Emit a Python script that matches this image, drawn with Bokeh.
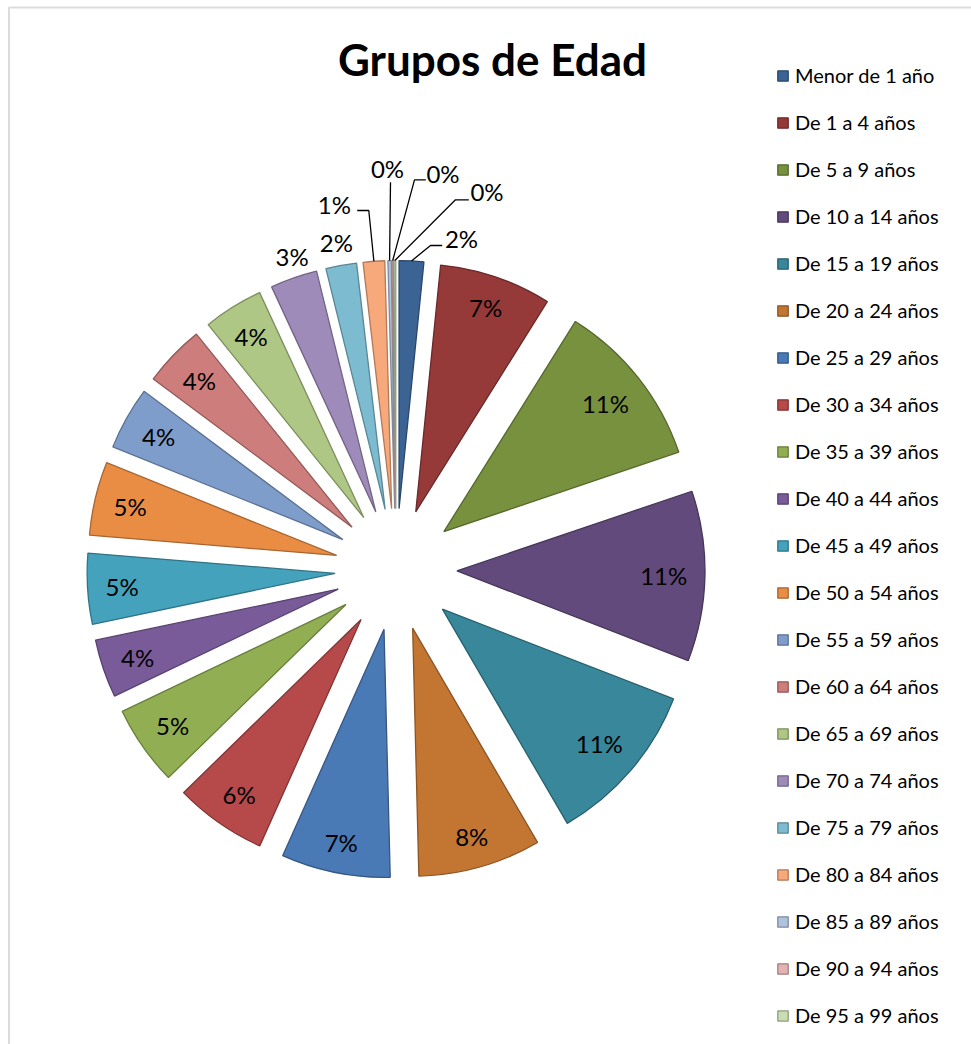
import math
from bokeh.plotting import figure
from bokeh.models import Range1d, BoxAnnotation, Legend, LegendItem, ColumnDataSource
from bokeh.core.properties import value
from bokeh.embed import file_html
from bokeh.resources import INLINE

# ---------------- data ----------------
categories = [
    "Menor de 1 año", "De 1 a 4 años", "De 5 a 9 años", "De 10 a 14 años",
    "De 15 a 19 años", "De 20 a 24 años", "De 25 a 29 años", "De 30 a 34 años",
    "De 35 a 39 años", "De 40 a 44 años", "De 45 a 49 años", "De 50 a 54 años",
    "De 55 a 59 años", "De 60 a 64 años", "De 65 a 69 años", "De 70 a 74 años",
    "De 75 a 79 años", "De 80 a 84 años", "De 85 a 89 años", "De 90 a 94 años",
    "De 95 a 99 años",
]
shares = [1.6, 7.3, 10.9, 11.1, 10.7, 8.0, 7.1, 6.0, 5.2, 3.8, 4.6, 4.8,
          4.1, 4.0, 3.9, 3.06, 2.0, 1.4, 0.22, 0.10, 0.12]
title_text = "Grupos de Edad"

# ---------------- style ----------------
fills = ["#3B6495", "#953A39", "#78913F", "#624B7C", "#38879A", "#C37532",
         "#4A7AB5", "#B6494A", "#91AF52", "#7A5B99", "#45A2BC", "#E98D45",
         "#7F9DCB", "#CD7D7B", "#AEC785", "#9F8BBA", "#7DBCD0", "#F7A97B",
         "#B1C2DD", "#E3B3B2", "#C9DCB2"]


def darker(hexcol, f=0.72):
    r, g, b = (int(hexcol[i:i + 2], 16) for i in (1, 3, 5))
    return "#%02x%02x%02x" % (int(r * f), int(g * f), int(b * f))


lines = [darker(c) for c in fills]

W, H = 971, 1044
CX, CY = 395.5, 475.0     # pie centre (data = canvas pixels, y up)
R = 248.0                 # slice radius
D = 61.0                  # explosion distance
FONT = "Lato"

# outside label layout (offsets from pie centre, screen-y downward)
OUT_TEXT = {0: (65.5, -330.7), 15: (-103.8, -313.5), 16: (-59.7, -326.8),
            17: (-61.7, -364.8), 18: (-8.5, -400.7), 19: (47.0, -396.2),
            20: (91.0, -378.5)}
LEADERS = {0: [(34.5, -324.0), (46.2, -324.0)],
           17: [(-27.2, -359.0), (-38.8, -359.0)],
           18: [(-5.5, -387.3)],
           19: [(18.5, -389.7), (29.8, -389.7)],
           20: [(59.5, -369.7), (72.8, -369.7)]}

# ---------------- geometry ----------------
total = sum(shares)
xs, ys, starts, ends, mids = [], [], [], [], []
acc = 0.0
for v in shares:
    t0 = 2 * math.pi * acc / total
    acc += v
    t1 = 2 * math.pi * acc / total
    m = (t0 + t1) / 2
    mids.append(m)
    xs.append(CX + D * math.sin(m))
    ys.append(CY + D * math.cos(m))
    starts.append(math.pi / 2 - t1)
    ends.append(math.pi / 2 - t0)

pct_labels = ["%d%%" % int(math.floor(v / total * 100 + 0.5)) for v in shares]

src = ColumnDataSource(dict(x=xs, y=ys, start=starts, end=ends,
                            fill=fills, line=lines, cat=categories))

p = figure(width=W, height=H, output_backend="svg", toolbar_location=None,
           x_range=Range1d(0, W), y_range=Range1d(0, H), min_border=0,
           outline_line_color=None, background_fill_color="white")
p.xaxis.visible = False
p.yaxis.visible = False
p.grid.visible = False

r = p.wedge(x="x", y="y", radius=R, start_angle="start", end_angle="end",
            fill_color="fill", line_color="line", line_width=1.3, source=src)

# inside labels
in_x, in_y, in_t = [], [], []
for i, m in enumerate(mids):
    if i in OUT_TEXT:
        continue
    w = 16.0 if len(pct_labels[i]) == 2 else 23.0
    ext = abs(math.sin(m)) * w + abs(math.cos(m)) * 9.5
    rl = R - 18.0 - ext
    in_x.append(xs[i] + rl * math.sin(m))
    in_y.append(ys[i] + rl * math.cos(m))
    in_t.append(pct_labels[i])
p.text(x=in_x, y=in_y, text=in_t, text_font=value(FONT), text_font_size="24px",
       text_align="center", text_baseline="middle", text_color="black")

# outside labels
ox, oy, ot = [], [], []
for i, (dx, dy) in OUT_TEXT.items():
    ox.append(CX + dx)
    oy.append(CY - dy)
    ot.append(pct_labels[i])
p.text(x=ox, y=oy, text=ot, text_font=value(FONT), text_font_size="24px",
       text_align="center", text_baseline="middle", text_color="black")

# leader lines
lxs, lys = [], []
for i, pts in LEADERS.items():
    m = mids[i]
    sx = xs[i] + R * math.sin(m)
    sy = ys[i] + R * math.cos(m)
    lx = [sx] + [CX + a for a, b in pts]
    ly = [sy] + [CY - b for a, b in pts]
    lxs.append(lx)
    lys.append(ly)
p.multi_line(xs=lxs, ys=lys, line_color="black", line_width=1.3)

# title
p.text(x=[492], y=[986], text=[title_text], text_font=value(FONT),
       text_font_style="bold", text_font_size="44px", text_align="center",
       text_baseline="middle", text_color="black")

# legend
items = [LegendItem(label=c, renderers=[r], index=i) for i, c in enumerate(categories)]
legend = Legend(items=items, location=(776, 17), orientation="vertical",
                border_line_color=None, background_fill_alpha=0, padding=0,
                margin=0, spacing=23, glyph_width=13, glyph_height=13,
                label_height=24, label_standoff=6, label_text_font=FONT,
                label_text_font_size="20px", label_text_color="black")
p.add_layout(legend)

# chart border (only its left and top edges fall inside the picture)
p.add_layout(BoxAnnotation(left=8.5, top=H - 7, right=W + 20, bottom=-20,
                           fill_alpha=0, line_color="#8a8a8a", line_width=2))

open("out.html", "w").write(file_html(p, INLINE))
